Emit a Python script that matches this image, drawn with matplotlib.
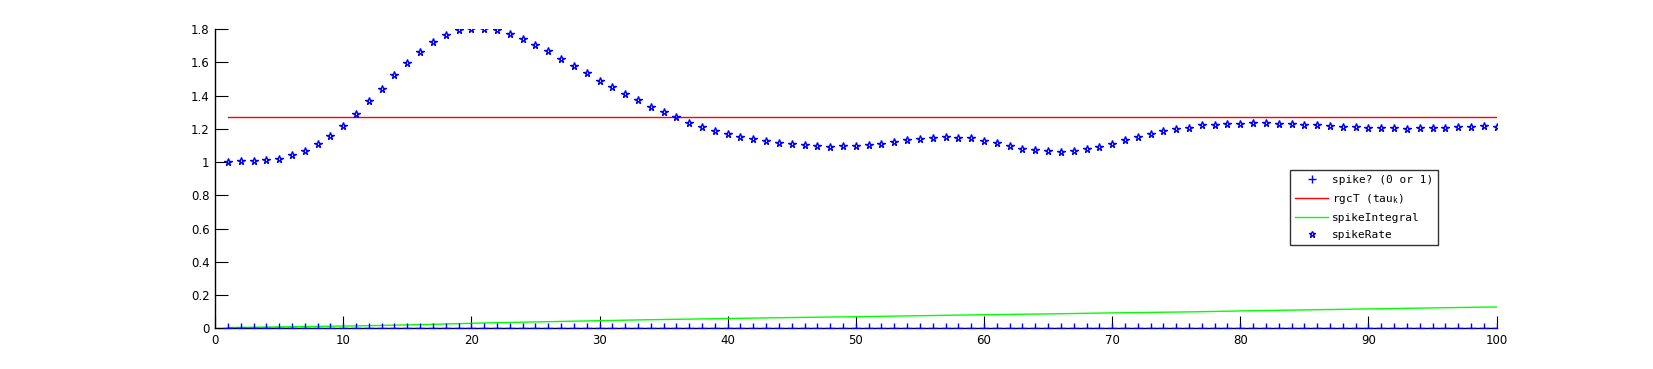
import matplotlib
matplotlib.use("Agg")
import matplotlib.pyplot as plt
import numpy as np

x = list(range(1, 101))

spike = [0] * 100

rgcT = [1.273] * 100

spikeIntegral = [
    0.0045, 0.0055, 0.0065, 0.0075, 0.0085, 0.0095, 0.0105, 0.0115, 0.0125, 0.0135,
    0.0145, 0.0158, 0.0173, 0.0188, 0.0203, 0.0220, 0.0240, 0.0260, 0.0280, 0.0301,
    0.0321, 0.0338, 0.0353, 0.0368, 0.0383, 0.0398, 0.0413, 0.0428, 0.0443, 0.0458,
    0.0473, 0.0488, 0.0503, 0.0517, 0.0529, 0.0541, 0.0553, 0.0565, 0.0577, 0.0589,
    0.0601, 0.0613, 0.0625, 0.0636, 0.0646, 0.0656, 0.0666, 0.0676, 0.0686, 0.0697,
    0.0709, 0.0721, 0.0733, 0.0745, 0.0757, 0.0769, 0.0781, 0.0793, 0.0805, 0.0816,
    0.0826, 0.0836, 0.0846, 0.0856, 0.0866, 0.0877, 0.0889, 0.0902, 0.0914, 0.0926,
    0.0937, 0.0947, 0.0957, 0.0967, 0.0977, 0.0987, 0.0999, 0.1014, 0.1029, 0.1044,
    0.1058, 0.1070, 0.1082, 0.1094, 0.1106, 0.1118, 0.1130, 0.1142, 0.1154, 0.1166,
    0.1178, 0.1190, 0.1202, 0.1214, 0.1226, 0.1238, 0.1250, 0.1262, 0.1274, 0.1280,
]

spikeRate = [
    1.000, 1.008, 1.008, 1.014, 1.020, 1.040, 1.064, 1.107, 1.155, 1.215,
    1.287, 1.366, 1.438, 1.523, 1.595, 1.661, 1.722, 1.764, 1.794, 1.800,
    1.800, 1.794, 1.770, 1.740, 1.703, 1.667, 1.619, 1.577, 1.537, 1.487,
    1.450, 1.408, 1.372, 1.330, 1.300, 1.270, 1.234, 1.210, 1.185, 1.167,
    1.149, 1.137, 1.125, 1.112, 1.106, 1.100, 1.094, 1.088, 1.094, 1.094,
    1.100, 1.106, 1.119, 1.131, 1.137, 1.143, 1.149, 1.143, 1.145, 1.127,
    1.113, 1.095, 1.076, 1.070, 1.064, 1.058, 1.064, 1.076, 1.088, 1.107,
    1.131, 1.149, 1.167, 1.185, 1.197, 1.203, 1.221, 1.221, 1.227, 1.227,
    1.234, 1.233, 1.227, 1.227, 1.221, 1.221, 1.215, 1.209, 1.209, 1.203,
    1.203, 1.203, 1.197, 1.203, 1.203, 1.203, 1.209, 1.209, 1.215, 1.209,
]

xticks = [0, 10, 20, 30, 40, 50, 60, 70, 80, 90, 100]
yticks = [0, 0.2, 0.4, 0.6, 0.8, 1.0, 1.2, 1.4, 1.6, 1.8]
ytick_labels = ["0", "0.2", "0.4", "0.6", "0.8", "1", "1.2", "1.4", "1.6", "1.8"]

fig = plt.figure(figsize=(16.53, 3.69), dpi=100)
ax = fig.add_axes([0.1301, 0.1103, 0.7753, 0.8111])

ax.plot(x, spike, linestyle="none", marker="+", color="blue", markersize=6.5,
        markeredgewidth=1.0, label="spike? (0 or 1)", zorder=3)
ax.plot(x, rgcT, color="red", linewidth=1.0, label=r"rgcT (tau$_{\mathregular{k}}$)", zorder=2)
ax.plot(x, spikeIntegral, color="#00ff00", linewidth=1.0, label="spikeIntegral", zorder=2)
ax.plot(x, spikeRate, linestyle="none", marker="*", markerfacecolor="none",
        markeredgecolor="blue", markersize=5.5, markeredgewidth=1.0,
        label="spikeRate", zorder=3)

ax.set_xlim(0, 100)
ax.set_ylim(0, 1.8)
ax.set_xticks(xticks)
ax.set_xticklabels([str(t) for t in xticks])
ax.set_yticks(yticks)
ax.set_yticklabels(ytick_labels)

for s in ["top", "right"]:
    ax.spines[s].set_visible(False)
for s in ["left", "bottom"]:
    ax.spines[s].set_linewidth(1.0)
    ax.spines[s].set_color("black")

ax.tick_params(axis="both", direction="in", length=9, width=0.8, labelsize=8.5,
               colors="black")
ax.tick_params(axis="x", pad=4)
ax.tick_params(axis="y", pad=4)

leg = ax.legend(loc="upper left", bbox_to_anchor=(0.8387, 0.529),
                prop={"family": "DejaVu Sans Mono", "size": 8},
                frameon=True, fancybox=False, edgecolor="black",
                handlelength=3.0, borderpad=0.45, labelspacing=0.62,
                handletextpad=0.3, borderaxespad=0, markerscale=0.9)
leg.get_frame().set_linewidth(1.0)

fig.savefig("out.png", dpi=100, facecolor="white")
